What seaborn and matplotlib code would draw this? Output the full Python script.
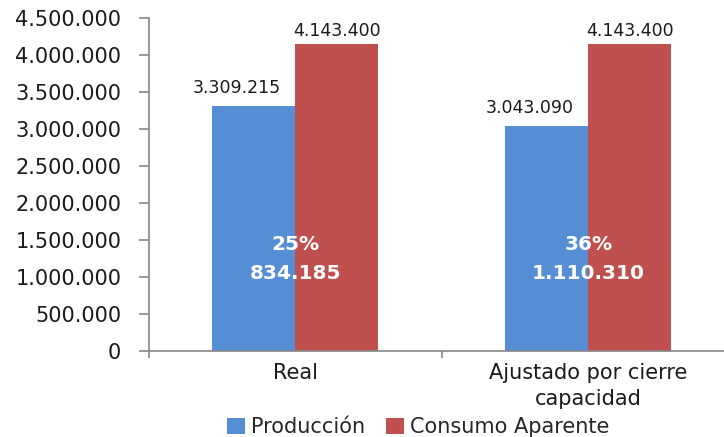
import matplotlib
matplotlib.use("Agg")
import matplotlib.pyplot as plt
import matplotlib.patches as mpatches
from matplotlib.ticker import FuncFormatter, MultipleLocator, FixedLocator
import seaborn as sns
import pandas as pd

# Data
categories = ["Real", "Ajustado por cierre\ncapacidad"]
series_names = ["Producción", "Consumo Aparente"]
produccion = [3309215, 3043090]
consumo = [4143400, 4143400]
brecha = [834185, 1110310]
colors = ["#558ED5", "#C0504D"]

def fmt_thousands(v):
    return f"{int(round(v)):,}".replace(",", ".")

df = pd.DataFrame({
    "categoria": categories * 2,
    "serie": [series_names[0]] * 2 + [series_names[1]] * 2,
    "valor": produccion + consumo,
})

sns.set_style("white")
plt.rcParams["font.family"] = ["DejaVu Sans"]

fig = plt.figure(figsize=(7.24, 4.37), dpi=100)
ax = fig.add_axes([0.2058, 0.1968, 0.809, 0.762])

sns.barplot(data=df, x="categoria", y="valor", hue="serie", order=categories,
            hue_order=series_names, palette=colors, width=0.567, gap=0,
            saturation=1, edgecolor="none", ax=ax, legend=False)

ax.set_xlim(-0.5, 1.5)
ax.set_ylim(0, 4500000)
ax.yaxis.set_major_locator(MultipleLocator(500000))
ax.yaxis.set_major_formatter(FuncFormatter(lambda v, p: fmt_thousands(v)))
ax.set_xlabel("")
ax.set_ylabel("")

spine_color = "#868686"
for s in ["top", "right"]:
    ax.spines[s].set_visible(False)
for s in ["left", "bottom"]:
    ax.spines[s].set_color(spine_color)
    ax.spines[s].set_linewidth(1.2)

ax.tick_params(axis="y", direction="out", length=7, width=1.2, color=spine_color,
               pad=13, labelsize=15, labelcolor="#1a1a1a", left=True)
ax.tick_params(axis="x", which="major", length=0, pad=9, labelsize=15,
               labelcolor="#1a1a1a")
ax.xaxis.set_minor_locator(FixedLocator([-0.5, 0.5, 1.5]))
ax.tick_params(axis="x", which="minor", direction="out", length=5, width=1.2,
               color=spine_color, bottom=True)
for lbl in ax.get_xticklabels():
    lbl.set_linespacing(1.35)

# Value labels above bars and the gap annotation inside each pair
for i, cat in enumerate(categories):
    ax.annotate(fmt_thousands(produccion[i]), xy=(i - 0.567 / 4, produccion[i]),
                xytext=(-12, 9.5), textcoords="offset points", ha="center",
                va="baseline", fontsize=12.5, color="#1a1a1a")
    ax.annotate(fmt_thousands(consumo[i]), xy=(i + 0.567 / 4, consumo[i]),
                xytext=(0, 6), textcoords="offset points", ha="center",
                va="baseline", fontsize=12.5, color="#1a1a1a")
    pct = brecha[i] / produccion[i] * 100
    ax.text(i, 0.32, f"{pct:.0f}%", transform=ax.get_xaxis_transform(),
            ha="center", va="center", fontsize=14.5, fontweight="bold", color="white")
    ax.text(i, 0.233, fmt_thousands(brecha[i]), transform=ax.get_xaxis_transform(),
            ha="center", va="center", fontsize=14.5, fontweight="bold", color="white")

handles = [mpatches.Patch(facecolor=c, edgecolor="none") for c in colors]
fig.legend(handles, series_names, loc="center", bbox_to_anchor=(0.578, 0.022),
           ncol=2, frameon=False, fontsize=15, handlelength=0.85, handleheight=0.85,
           handletextpad=0.3, columnspacing=1.0, borderpad=0)

fig.savefig("out.png", dpi=100)
